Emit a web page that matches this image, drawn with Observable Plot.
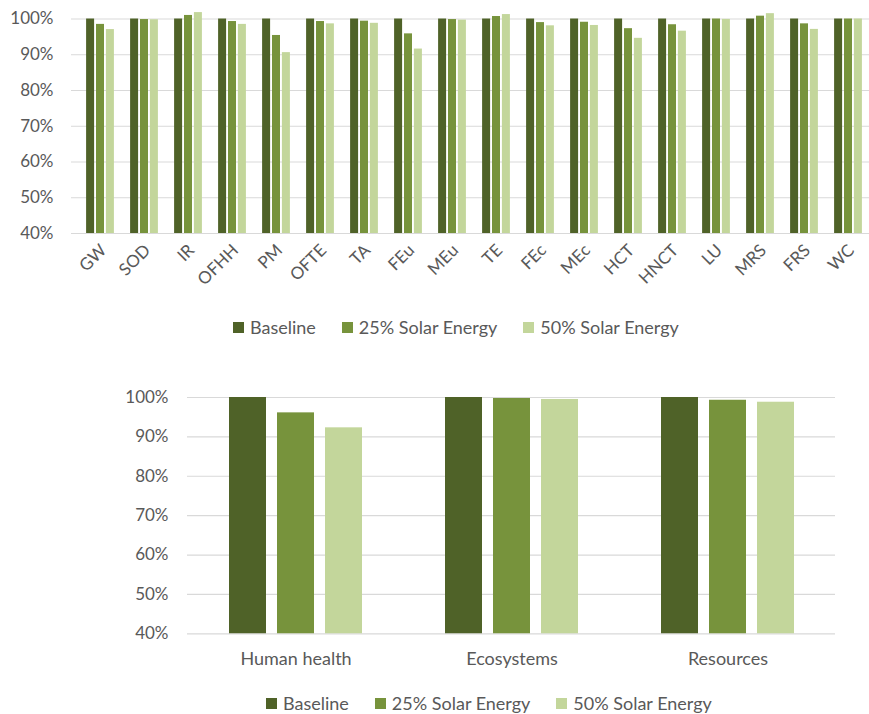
<!DOCTYPE html>
<html><head><meta charset="utf-8">
<script src="https://cdn.jsdelivr.net/npm/d3@7"></script>
<script src="https://cdn.jsdelivr.net/npm/@observablehq/plot@0.6"></script>
<style>
body{margin:0;background:#fff;overflow:hidden}
#wrap{position:relative;width:869px;height:714px;overflow:hidden;font-family:Lato,sans-serif;color:#595959}
#wrap svg{max-width:none !important}
.legend{position:absolute;display:flex;align-items:center;font-size:18px;color:#595959;white-space:nowrap;line-height:22px}
.legend .sw{width:11px;height:11px;margin-right:6px;flex:none}
.legend .item{display:flex;align-items:center;margin-right:26px}
</style></head><body><div id="wrap"></div>
<script>
// ---- data ----
const categories = ["GW","SOD","IR","OFHH","PM","OFTE","TA","FEu","MEu","TE","FEc","MEc","HCT","HNCT","LU","MRS","FRS","WC"];
const baseline = [100,100,100,100,100,100,100,100,100,100,100,100,100,100,100,100,100,100];
const solar25  = [98.5,99.85,101.0,99.3,95.4,99.3,99.4,95.85,99.85,100.7,99.0,99.1,97.3,98.4,100.0,100.8,98.65,100.0];
const solar50  = [97.05,99.8,101.8,98.5,90.6,98.65,98.8,91.6,99.7,101.25,98.1,98.2,94.6,96.6,99.9,101.5,97.1,100.0];

const impactCategories = ["Human health","Ecosystems","Resources"];
const impactBaseline = [100,100,100];
const impact25 = [96.1,99.75,99.3];
const impact50 = [92.3,99.5,98.8];

const seriesNames = ["Baseline","25% Solar Energy","50% Solar Energy"];
const seriesColors = ["#4f6228","#77933c","#c3d69b"];
const yTicks = [40,50,60,70,80,90,100];

// ---- helpers ----
function makeRows(cats, arrays) {
  return cats.flatMap((c, i) => seriesNames.map((s, k) => ({cat: c, series: s, value: arrays[k][i]})));
}
const wrap = document.getElementById("wrap");
const font = "Lato, sans-serif";

// ---- top chart ----
const rows1 = makeRows(categories, [baseline, solar25, solar50]);
const W1 = 878, ML1 = 71, MR1 = 0;
const step1 = (W1 - ML1 - MR1) / categories.length;
const bw1 = 8.6, gap1 = 1.3;
const pad1 = 1 - bw1 / step1;
const chart1 = Plot.plot({
  width: W1, height: 275,
  marginLeft: ML1, marginRight: MR1, marginTop: 7.8, marginBottom: 42,
  style: {fontFamily: font, fontSize: "17px", color: "#595959", background: "transparent", overflow: "visible", maxWidth: "none"},
  x: {domain: categories, paddingInner: pad1, paddingOuter: pad1 / 2, label: null},
  y: {domain: [40, 103], label: null},
  color: {domain: seriesNames, range: seriesColors},
  marks: [
    Plot.ruleY(yTicks, {stroke: "#d9d9d9", strokeWidth: 1.2}),
    ...seriesNames.map((s, k) => Plot.barY(rows1.filter(d => d.series === s), {
      x: "cat", y: "value", fill: "series", clip: true, dx: (k - 1) * (bw1 + gap1)
    })),
    Plot.axisY(yTicks, {tickSize: 0, tickPadding: 18, tickFormat: d => d + "%", fontSize: 17, fill: "#595959", label: null}),
    Plot.axisX({tickSize: 0, tickRotate: -45, tickPadding: 14, dx: 3, fontSize: 17, fill: "#595959", label: null})
  ]
});
chart1.style.position = "absolute"; chart1.style.left = "0px"; chart1.style.top = "0px";
chart1.style.maxWidth = "none";
wrap.appendChild(chart1);

// ---- bottom chart ----
const rows2 = makeRows(impactCategories, [impactBaseline, impact25, impact50]);
const W2 = 869, ML2 = 187, MR2 = 34;
const step2 = (W2 - ML2 - MR2) / impactCategories.length;
const bw2 = 37, gap2 = 11;
const pad2 = 1 - bw2 / step2;
const chart2 = Plot.plot({
  width: W2, height: 293,
  marginLeft: ML2, marginRight: MR2, marginTop: 17, marginBottom: 39.7,
  style: {fontFamily: font, fontSize: "17px", color: "#595959", background: "transparent", overflow: "visible", maxWidth: "none"},
  x: {domain: impactCategories, paddingInner: pad2, paddingOuter: pad2 / 2, label: null},
  y: {domain: [40, 100], label: null},
  color: {domain: seriesNames, range: seriesColors},
  marks: [
    Plot.ruleY(yTicks, {stroke: "#d9d9d9", strokeWidth: 1.2}),
    ...seriesNames.map((s, k) => Plot.barY(rows2.filter(d => d.series === s), {
      x: "cat", y: "value", fill: "series", clip: true, dx: (k - 1) * (bw2 + gap2)
    })),
    Plot.axisY(yTicks, {tickSize: 0, tickPadding: 19, tickFormat: d => d + "%", fontSize: 17, fill: "#595959", label: null}),
    Plot.axisX({tickSize: 0, tickPadding: 18, fontSize: 18, fill: "#595959", label: null})
  ]
});
chart2.style.position = "absolute"; chart2.style.left = "0px"; chart2.style.top = "380px";
chart2.style.maxWidth = "none";
wrap.appendChild(chart2);

// ---- legends ----
function legend(left, topPx) {
  const div = document.createElement("div");
  div.className = "legend";
  div.style.left = left + "px";
  div.style.top = topPx + "px";
  seriesNames.forEach((s, k) => {
    const item = document.createElement("div");
    item.className = "item";
    const sw = document.createElement("span");
    sw.className = "sw";
    sw.style.background = seriesColors[k];
    const t = document.createElement("span");
    t.textContent = s;
    item.appendChild(sw); item.appendChild(t);
    div.appendChild(item);
  });
  wrap.appendChild(div);
}
legend(233, 316);
legend(266, 692);
</script>
</body></html>
